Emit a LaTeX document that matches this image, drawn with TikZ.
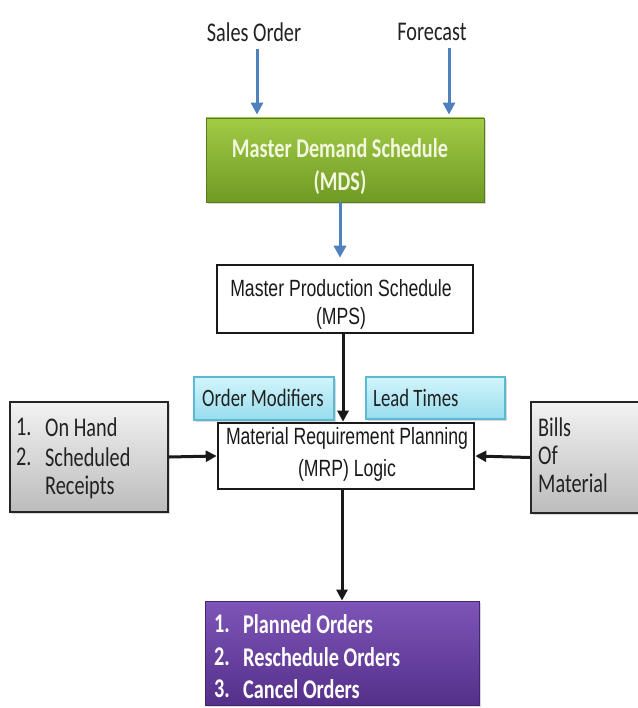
\documentclass[tikz,border=0pt]{standalone}
\usepackage{fontspec}
\usetikzlibrary{shadows,arrows.meta}
\newfontfamily\calfont[FakeStretch=0.75]{Carlito}
\newfontfamily\arifont[FakeStretch=0.75]{Liberation Sans}
\definecolor{bluearr}{HTML}{4F81BD}
\definecolor{grntop}{HTML}{A2CB45}
\definecolor{grnbot}{HTML}{6F9A24}
\definecolor{grntext}{HTML}{F3F7E0}
\definecolor{purtop}{HTML}{7E55B8}
\definecolor{purbot}{HTML}{55308A}
\definecolor{cyantop}{HTML}{D2F5FB}
\definecolor{cyanbot}{HTML}{98DCEE}
\definecolor{cyanline}{HTML}{5CB9D2}
\definecolor{graytop}{HTML}{F2F2F2}
\definecolor{graybot}{HTML}{BCBCBC}
\definecolor{txt}{HTML}{222222}
\begin{document}
\begin{tikzpicture}[x=1pt,y=-1pt,
  shad/.style={drop shadow={shadow xshift=2pt,shadow yshift=-2pt,opacity=.3}},
  greenbox/.style={rectangle,inner sep=0pt,top color=grntop,bottom color=grnbot,draw=grnbot!80!black,line width=0.8pt,shad},
  whitebox/.style={rectangle,inner sep=0pt,fill=white,draw=black!90,line width=2.6pt},
  cyanbox/.style={rectangle,inner sep=0pt,top color=cyantop,bottom color=cyanbot,draw=cyanline,line width=1.4pt,shad},
  graybox/.style={rectangle,inner sep=0pt,top color=graytop,bottom color=graybot,draw=black!85,line width=2.2pt,shad},
  purbox/.style={rectangle,inner sep=0pt,top color=purtop,bottom color=purbot,draw=purbot!80!black,line width=0.8pt,shad},
  caltxt/.style={inner sep=0pt,text=txt,font=\calfont\fontsize{27}{30}\selectfont},
  calbold/.style={inner sep=0pt,font=\calfont\bfseries\fontsize{27}{30}\selectfont},
  aritxt/.style={inner sep=0pt,text=black!90,font=\arifont\fontsize{23.5}{26}\selectfont},
  barrow/.style={draw=bluearr,line width=3pt,-{Triangle[length=12pt,width=12pt]}},
  karrow/.style={draw=black!90,line width=3pt,-{Triangle[length=11pt,width=11pt]}}
]
\useasboundingbox[fill=white] (0,0) rectangle (637,708);

% boxes
\node[greenbox,minimum width=278pt,minimum height=84pt] (mds) at (345,160) {};
\node[whitebox,minimum width=256pt,minimum height=68pt] (mps) at (345,299) {};
\node[cyanbox,minimum width=140pt,minimum height=43pt] (om) at (264,398.5) {};
\node[cyanbox,minimum width=139pt,minimum height=42pt] (lt) at (435.5,398) {};
\node[whitebox,minimum width=256pt,minimum height=66pt] (mrp) at (346,456) {};
\node[graybox,minimum width=158pt,minimum height=110pt] (lb) at (89,457) {};
\node[graybox,minimum width=150pt,minimum height=111pt] (rb) at (606,457.5) {};
\node[purbox,minimum width=274pt,minimum height=104pt] (out) at (342,653) {};

% top labels
\node[caltxt] (so) at (254,32) {Sales Order};
\node[caltxt] (fc) at (432,32) {Forecast};

% texts
\node[calbold,text=grntext] at (340,148) {Master Demand Schedule};
\node[calbold,text=grntext] at (340,183) {(MDS)};
\node[aritxt] at (341,288) {Master Production Schedule};
\node[aritxt] at (341,318) {(MPS)};
\node[caltxt,anchor=west,font=\calfont\fontsize{25}{28}\selectfont] at (202,398) {Order Modifiers};
\node[caltxt,anchor=west,font=\calfont\fontsize{25}{28}\selectfont] at (373,398) {Lead Times};
\node[aritxt] at (347,438) {Material Requirement Planning};
\node[aritxt] at (347,470) {(MRP) Logic};

\node[caltxt,anchor=west] at (16,427) {1.};
\node[caltxt,anchor=west] at (45,427) {On Hand};
\node[caltxt,anchor=west] at (16,457) {2.};
\node[caltxt,anchor=west] at (45,457) {Scheduled};
\node[caltxt,anchor=west] at (45,487) {Receipts};

\node[caltxt,anchor=west] at (538,427) {Bills};
\node[caltxt,anchor=west] at (538,455) {Of};
\node[caltxt,anchor=west] at (538,483) {Material};

\node[calbold,text=white,anchor=west] at (214,624) {1.};
\node[calbold,text=white,anchor=west] at (243,624) {Planned Orders};
\node[calbold,text=white,anchor=west] at (214,657) {2.};
\node[calbold,text=white,anchor=west] at (243,657) {Reschedule Orders};
\node[calbold,text=white,anchor=west] at (214,689) {3.};
\node[calbold,text=white,anchor=west] at (243,689) {Cancel Orders};

% connectors
\draw[barrow,shorten >=3pt] ([xshift=3pt,yshift=-7pt]so.south) -- ([xshift=3pt]so.south |- mds.north);
\draw[barrow,shorten >=3pt] ([xshift=17pt,yshift=-7pt]fc.south) -- ([xshift=17pt]fc.south |- mds.north);
\draw[barrow,shorten >=6pt] ([xshift=-5pt]mds.south) -- ([xshift=-5pt]mds.south |- mps.north);
\draw[karrow] ([xshift=-2pt]mps.south) -- ([xshift=-2pt]mps.south |- mrp.north);
\draw[karrow] (lb.east) -- (mrp.west);
\draw[karrow] (rb.west) -- (mrp.east);
\draw[karrow] ([xshift=-4pt]mrp.south) -- ([xshift=-4pt]mrp.south |- out.north);
\end{tikzpicture}
\end{document}
